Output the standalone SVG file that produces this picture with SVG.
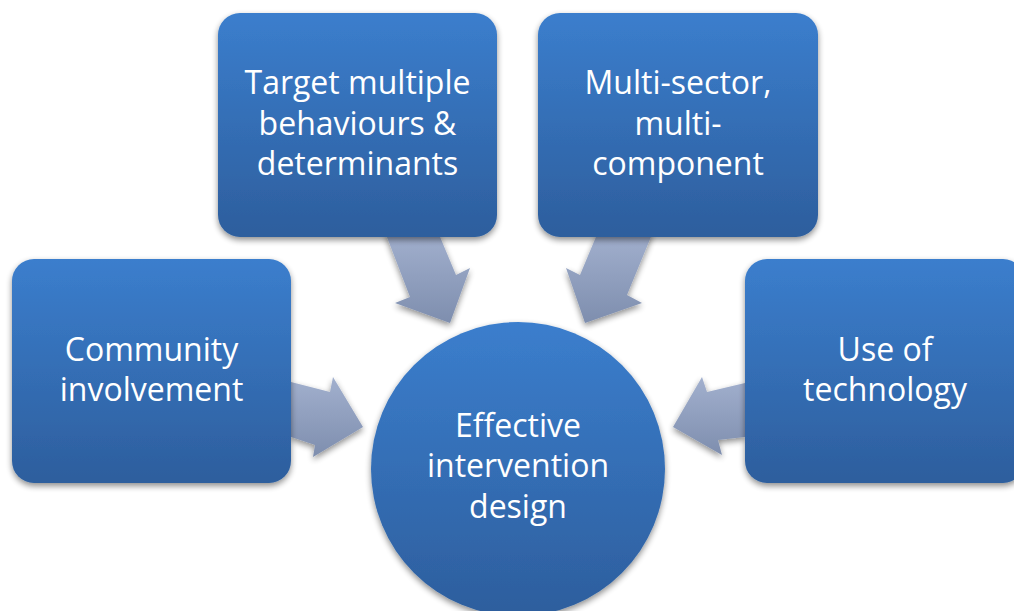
<svg xmlns="http://www.w3.org/2000/svg" width="1014" height="611" viewBox="0 0 1014 611">
<defs>
<linearGradient id="gBox" x1="0" y1="0" x2="0" y2="1">
<stop offset="0" stop-color="#3B7ECD"/>
<stop offset="1" stop-color="#2D5E9D"/>
</linearGradient>
<linearGradient id="gArrow" x1="0" y1="0" x2="0" y2="1">
<stop offset="0" stop-color="#A2B0CE"/>
<stop offset="1" stop-color="#7E8EAE"/>
</linearGradient>
<filter id="sh" x="-20%" y="-20%" width="140%" height="140%">
<feGaussianBlur in="SourceAlpha" stdDeviation="3"/>
<feOffset dx="0" dy="3" result="b"/>
<feComponentTransfer><feFuncA type="linear" slope="0.45"/></feComponentTransfer>
<feMerge><feMergeNode/><feMergeNode in="SourceGraphic"/></feMerge>
</filter>
</defs>
<style>
.box{fill:url(#gBox);filter:url(#sh);}
.arr{fill:url(#gArrow);filter:url(#sh);}
.t{font-family:"Open Sans","Liberation Sans",sans-serif;font-size:32px;fill:#FFFFFF;text-anchor:middle;}
</style>
<g id="connectors">
<polygon class="arr" points="291,382 330,392 333,377 363,427 313,457 315,445 291,437"/>
<polygon class="arr" points="745,383 707,392 702,377 673,427 722,455 718,440 745,437"/>
<polygon class="arr" points="385,232 438,232 456,275 470,268 450,323 395,303 410,297"/>
<polygon class="arr" points="598,232 653,232 627,295 642,303 585,323 566,268 580,275"/>
</g>
<g id="node-target">
<rect class="box" x="218" y="13" width="279" height="224" rx="22"/>
<text class="t" x="357.5" y="94">Target multiple</text>
<text class="t" x="357.5" y="135">behaviours &amp;</text>
<text class="t" x="357.5" y="175">determinants</text>
</g>
<g id="node-multisector">
<rect class="box" x="538" y="13" width="280" height="224" rx="22"/>
<text class="t" x="678" y="94">Multi-sector,</text>
<text class="t" x="678" y="135">multi-</text>
<text class="t" x="678" y="175">component</text>
</g>
<g id="node-community">
<rect class="box" x="12" y="259" width="279" height="224" rx="22"/>
<text class="t" x="151.5" y="361">Community</text>
<text class="t" x="151.5" y="401">involvement</text>
</g>
<g id="node-technology">
<rect class="box" x="745" y="259" width="280" height="224" rx="22"/>
<text class="t" x="885" y="361">Use of</text>
<text class="t" x="885" y="401">technology</text>
</g>
<g id="node-center">
<circle class="box" cx="518" cy="469" r="147"/>
<text class="t" x="518" y="437">Effective</text>
<text class="t" x="518" y="477">intervention</text>
<text class="t" x="518" y="518">design</text>
</g>
</svg>
